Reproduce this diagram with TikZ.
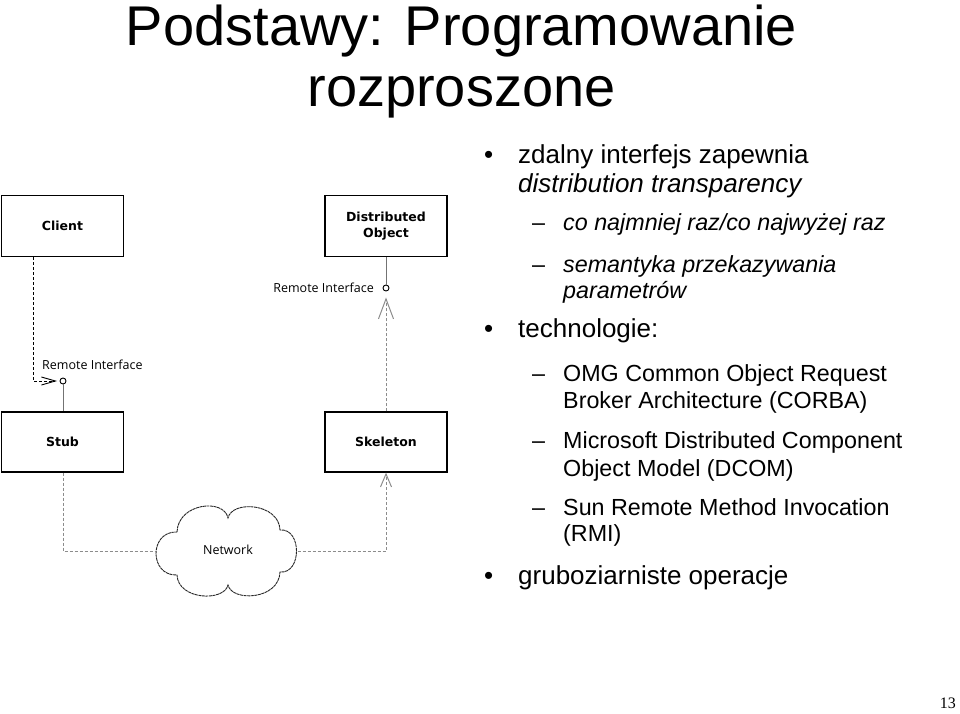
\documentclass[tikz,border=0pt]{standalone}
\usepackage{fontspec}
\setmainfont{Liberation Sans}
\newfontfamily\serifnum{Liberation Serif}
\newfontfamily\diagfont{Open Sans}
\newfontfamily\boxfont{DejaVu Sans}
\usetikzlibrary{arrows.meta}
\tikzset{
  umlbox/.style={draw=black, line width=1.3, minimum width=122, minimum height=61,
    inner sep=0, align=center, font=\boxfont\bfseries\fontsize{12.5}{16.5}\selectfont},
  iface/.style={draw=black, circle, line width=0.9, minimum size=6, inner sep=0},
  lbl/.style={inner sep=0, font=\diagfont\fontsize{12.5}{15}\selectfont},
  blackdash/.style={draw=black, line width=0.9, dash pattern=on 3 off 2},
  graydash/.style={draw=black!45, line width=1, dash pattern=on 3 off 2},
  graysolid/.style={draw=black!55, line width=1},
  cloudline/.style={draw=black!85, line width=0.9, dash pattern=on 3 off 0.6},
  titletext/.style={anchor=base, inner sep=0, font=\fontsize{56}{66}\selectfont},
  lone/.style={anchor=base west, inner sep=0, font=\fontsize{26}{30}\selectfont},
  ltwo/.style={anchor=base west, inner sep=0, font=\fontsize{23.3}{28}\selectfont},
}
\begin{document}
\begin{tikzpicture}[x=1pt,y=-1pt]
\useasboundingbox (0,0) rectangle (960,713);
% title
\node[titletext] (t1) at (461.5,45) {Podstawy: Programowanie};
\node[titletext] (t2) at (461.5,106) {rozproszone};
% boxes
\node[umlbox] (client) at (62.5,226) {Client};
\node[umlbox] (dobj) at (386,226) {Distributed\\Object};
\node[umlbox, minimum height=60] (stub) at (62.5,442) {Stub};
\node[umlbox, minimum height=60] (skel) at (386,442) {Skeleton};
% interfaces
\node[iface] (ci) at (63,381) {};
\node[iface] (si) at (386,288) {};
\node[lbl, anchor=base west] (lab1) at (42,369) {Remote Interface};
\node[lbl, anchor=base east] (lab2) at (374,292) {Remote Interface};
% client -> interface
\coordinate (cb) at (33,381);
\draw[blackdash, -{Straight Barb[length=14,width=8]}, shorten >=2.5] (client.south -| cb) -- (cb) -- (ci.west);
\draw[graysolid] (ci.south) -- (stub.north -| ci);
\draw[graysolid] (dobj.south) -- (si.north);
% cloud
\coordinate (cA) at (177,532);
\coordinate (cB) at (228,518);
\coordinate (cC) at (280,530);
\coordinate (cD) at (280,572);
\coordinate (cE) at (228,585);
\coordinate (cF) at (177,575);
\draw[cloudline] (cA) .. controls (178,503) and (224,498) .. (cB)
  .. controls (232,500) and (279,503) .. (cC)
  .. controls (302,528) and (302,574) .. (cD)
  .. controls (279,600) and (232,602) .. (cE)
  .. controls (224,602) and (178,600) .. (cF)
  .. controls (149,576) and (149,531) .. cycle;
\node[lbl] (net) at (228,550) {Network};
\coordinate (cloudL) at (155.5,551);
\coordinate (cloudR) at (297.5,551);
\coordinate (sb) at (63,551);
\coordinate (kb) at (386,551);
\draw[graydash] (stub.south -| ci) -- (sb) -- (cloudL);
\draw[graydash, -{Straight Barb[length=13,width=11]}] (cloudR) -- (kb) -- (skel.south);
\draw[graydash, -{Straight Barb[length=20,width=15]}, shorten >=6] (skel.north) -- (si.south);
% bullet text
\node[lone] (b1) at (484,163) {•};
\node[lone] (x1) at (518,163) {zdalny interfejs zapewnia};
\node[lone] (x1b) at (518,192) {\itshape distribution transparency};
\node[ltwo] (d1) at (532,230) {–};
\node[ltwo] (y1) at (563,230) {\itshape co najmniej raz/co najwyżej raz};
\node[ltwo] (d2) at (532,272) {–};
\node[ltwo] (y2) at (563,272) {\itshape semantyka przekazywania};
\node[ltwo] (y2b) at (563,298) {\itshape parametrów};
\node[lone] (b2) at (484,337) {•};
\node[lone] (x2) at (518,337) {technologie:};
\node[ltwo] (d3) at (532,381) {–};
\node[ltwo] (y3) at (563,381) {OMG Common Object Request};
\node[ltwo] (y3b) at (563,408) {Broker Architecture (CORBA)};
\node[ltwo] (d4) at (532,448) {–};
\node[ltwo] (y4) at (563,448) {Microsoft Distributed Component};
\node[ltwo] (y4b) at (563,476) {Object Model (DCOM)};
\node[ltwo] (d5) at (532,515) {–};
\node[ltwo] (y5) at (563,515) {Sun Remote Method Invocation};
\node[ltwo] (y5b) at (563,541) {(RMI)};
\node[lone] (b3) at (484,584) {•};
\node[lone] (x3) at (518,584) {gruboziarniste operacje};
\node[anchor=base east, inner sep=0, font=\serifnum\fontsize{16}{18}\selectfont] (pg) at (956,708) {13};
\end{tikzpicture}
\end{document}
